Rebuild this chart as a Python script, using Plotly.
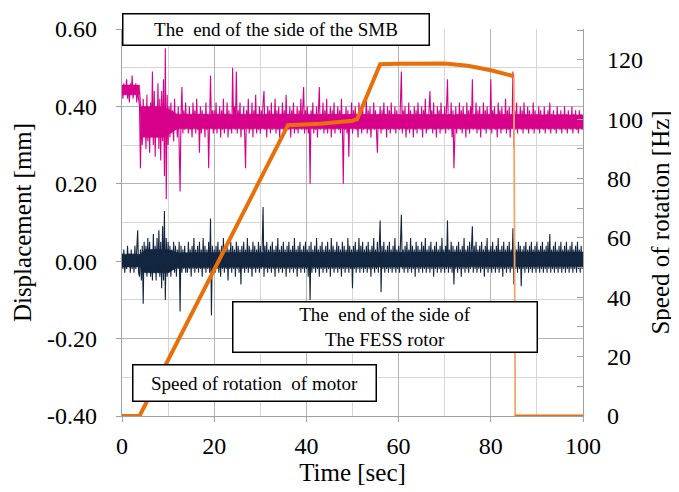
import plotly.graph_objects as go

# ---- data, one sample every 0.2 s ----
STEP = 0.2
SMB = [
 0.45,0.42,0.46,0.43,0.44,0.47,0.42,0.45,0.41,0.46,0.43,0.48,0.42,0.45,0.43,0.46,0.41,0.44,0.42,0.40,
 0.24,0.38,0.30,0.42,0.33,0.40,0.29,0.43,0.31,0.39,0.28,0.41,0.34,0.49,0.30,0.44,0.27,0.40,0.32,0.46,
 0.29,0.42,0.26,0.44,0.31,0.47,0.22,0.55,0.16,0.43,
 0.30,0.40,0.32,0.41,0.33,0.39,0.31,0.42,0.34,0.38,0.32,0.40,0.30,0.18,0.38,0.45,0.33,0.39,0.34,0.41,
 0.35,0.38,0.33,0.40,0.34,0.37,0.32,0.41,0.35,0.39,0.33,0.42,0.34,0.38,0.28,0.40,0.33,0.39,0.35,0.38,
 0.32,0.41,0.34,0.38,0.24,0.40,0.48,0.35,0.39,0.33,
 0.39,0.34,0.41,0.33,0.38,0.35,0.40,0.32,0.39,0.34,0.42,0.33,0.38,0.35,0.41,0.32,0.39,0.34,0.37,0.33,
 0.50,0.35,0.40,0.34,0.49,0.33,0.39,0.35,0.41,0.32,0.38,0.34,0.40,0.33,0.24,0.39,0.35,0.42,0.33,0.38,
 0.34,0.41,0.32,0.39,0.35,0.43,0.33,0.38,0.34,0.40,
 0.33,0.39,0.35,0.41,0.44,0.34,0.38,0.32,0.40,0.35,0.39,0.33,0.41,0.34,0.38,0.35,0.42,0.33,0.39,0.34,
 0.40,0.32,0.38,0.35,0.41,0.34,0.39,0.33,0.43,0.35,0.38,0.34,0.40,0.32,0.39,0.35,0.41,0.33,0.38,0.34,
 0.40,0.33,0.39,0.35,0.42,0.34,0.38,0.45,0.33,0.39,
 0.34,0.40,0.33,0.38,0.20,0.39,0.35,0.41,0.33,0.38,0.34,0.40,0.32,0.39,0.45,0.34,0.38,0.35,0.41,0.33,
 0.39,0.34,0.42,0.33,0.38,0.35,0.40,0.32,0.39,0.34,0.41,0.33,0.38,0.35,0.40,0.34,0.39,0.33,0.42,0.35,
 0.20,0.38,0.34,0.40,0.33,0.39,0.27,0.38,0.35,0.41,
 0.33,0.39,0.35,0.40,0.34,0.38,0.32,0.41,0.35,0.39,0.33,0.40,0.34,0.38,0.35,0.42,0.33,0.39,0.34,0.40,
 0.32,0.38,0.35,0.41,0.34,0.39,0.33,0.28,0.38,0.35,0.40,0.33,0.39,0.34,0.41,0.35,0.38,0.32,0.40,0.34,
 0.39,0.33,0.41,0.35,0.38,0.34,0.40,0.33,0.39,0.35,
 0.38,0.34,0.41,0.49,0.33,0.39,0.35,0.40,0.32,0.38,0.34,0.41,0.33,0.39,0.35,0.38,0.32,0.40,0.34,0.39,
 0.33,0.41,0.35,0.38,0.34,0.40,0.32,0.39,0.35,0.42,0.33,0.38,0.34,0.40,0.44,0.35,0.39,0.33,0.41,0.34,
 0.38,0.32,0.40,0.35,0.39,0.33,0.41,0.34,0.38,0.35,
 0.40,0.33,0.39,0.47,0.34,0.38,0.35,0.41,0.32,0.39,0.24,0.34,0.40,0.33,0.38,0.35,0.41,0.34,0.39,0.33,
 0.40,0.35,0.38,0.32,0.41,0.34,0.39,0.33,0.40,0.35,0.47,0.34,0.38,0.35,0.41,0.33,0.39,0.34,0.40,0.32,
 0.38,0.35,0.41,0.34,0.39,0.33,0.40,0.35,0.38,0.34,
 0.47,0.33,0.39,0.35,0.40,0.34,0.38,0.32,0.41,0.35,0.39,0.33,0.40,0.34,0.38,0.35,0.42,0.33,0.39,0.34,
 0.40,0.32,0.38,0.35,0.49,0.29,0.39,0.34,0.41,0.33,0.38,0.35,0.40,0.34,0.39,0.33,0.41,0.35,0.38,0.34,
 0.40,0.33,0.39,0.35,0.38,0.34,0.41,0.33,0.39,0.35,
 0.38,0.34,0.40,0.33,0.39,0.35,0.37,0.34,0.40,0.33,0.38,0.35,0.39,0.34,0.41,0.33,0.38,0.35,0.39,0.34,
 0.37,0.33,0.40,0.35,0.38,0.34,0.39,0.33,0.38,0.35,0.40,0.34,0.38,0.33,0.39,0.35,0.37,0.34,0.40,0.33,
 0.38,0.35,0.39,0.34,0.37,0.33,0.39,0.35,0.38,0.34,
 0.36]
FESS = [
 0.02,-0.02,0.03,-0.03,0.01,-0.02,0.04,-0.01,0.02,-0.03,0.03,-0.02,0.02,-0.03,0.04,-0.02,0.03,0.08,-0.03,-0.04,
 0.03,-0.05,0.04,-0.11,0.05,-0.03,0.04,-0.04,0.06,-0.02,0.05,-0.04,0.03,-0.05,0.07,-0.03,0.04,-0.05,0.06,-0.03,
 0.08,-0.04,0.05,-0.07,0.09,-0.05,0.13,-0.10,0.06,-0.04,
 0.05,-0.03,0.04,-0.04,0.03,-0.02,0.05,-0.03,0.04,-0.04,0.03,-0.02,0.05,-0.13,0.04,-0.03,0.03,-0.02,0.04,-0.03,
 0.02,-0.03,0.05,-0.02,0.03,-0.04,0.04,-0.02,0.06,-0.03,0.03,-0.02,0.04,-0.03,0.05,-0.02,0.03,-0.04,0.06,-0.02,
 0.04,-0.03,0.03,-0.02,0.05,-0.03,0.11,-0.14,0.04,-0.02,
 0.03,-0.03,0.04,-0.02,0.05,-0.03,0.03,-0.04,0.04,-0.02,0.06,-0.03,0.03,-0.02,0.04,-0.05,0.03,-0.02,0.05,-0.03,
 0.04,-0.02,0.03,-0.04,0.05,-0.02,0.04,-0.03,0.03,-0.06,0.04,-0.02,0.05,-0.03,0.03,-0.02,0.06,-0.03,0.04,-0.02,
 0.03,-0.04,0.05,-0.02,0.04,-0.03,0.03,-0.02,0.05,-0.03,
 0.04,-0.02,0.03,0.14,-0.04,0.04,-0.02,0.05,-0.03,0.03,-0.02,0.04,-0.03,0.05,-0.02,0.03,-0.04,0.04,-0.02,0.06,
 -0.03,0.03,-0.02,0.04,-0.03,0.05,-0.02,0.03,-0.04,0.04,-0.02,0.05,-0.03,0.03,-0.02,0.04,-0.03,0.06,-0.02,0.03,
 -0.04,0.04,-0.02,0.05,-0.03,0.03,-0.02,0.04,-0.03,0.05,
 -0.02,0.03,-0.04,0.04,-0.10,0.05,-0.03,0.03,-0.02,0.04,-0.03,0.06,-0.02,0.03,-0.04,0.04,-0.02,0.05,-0.03,0.03,
 -0.02,0.04,-0.03,0.05,-0.02,0.03,-0.04,0.06,-0.02,0.04,-0.03,0.03,-0.02,0.05,-0.03,0.04,-0.02,0.03,-0.04,0.05,
 -0.02,0.04,-0.03,0.03,-0.02,0.06,-0.03,0.04,-0.02,0.03,
 -0.07,0.04,-0.02,0.05,-0.03,0.03,-0.02,0.06,-0.03,0.04,-0.02,0.05,-0.03,0.03,-0.02,0.04,-0.03,0.05,-0.02,0.03,
 -0.04,0.04,-0.02,0.06,-0.03,0.03,-0.02,0.05,-0.03,0.04,0.105,-0.08,0.04,-0.02,0.05,-0.03,0.03,-0.02,0.04,-0.03,
 0.05,-0.02,0.03,-0.03,0.04,-0.02,0.06,-0.03,0.03,-0.02,
 0.04,-0.03,0.05,0.12,-0.02,0.03,-0.03,0.04,-0.02,0.05,-0.03,0.03,-0.02,0.06,-0.03,0.04,-0.02,0.03,-0.04,0.05,
 -0.02,0.04,-0.03,0.03,-0.02,0.05,-0.03,0.04,-0.02,0.06,-0.03,0.03,-0.02,0.04,-0.03,0.05,-0.02,0.03,-0.04,0.04,
 -0.02,0.05,-0.03,0.03,-0.02,0.04,-0.03,0.06,-0.02,0.03,
 -0.03,0.04,-0.02,0.105,-0.03,0.03,-0.02,0.05,-0.03,0.04,-0.06,0.03,-0.02,0.04,-0.03,0.05,-0.02,0.03,-0.04,0.04,
 -0.02,0.06,-0.03,0.03,-0.02,0.04,-0.03,0.05,-0.02,0.03,0.09,-0.03,0.04,-0.02,0.05,-0.03,0.03,-0.02,0.04,-0.03,
 0.05,-0.02,0.03,-0.04,0.04,-0.02,0.06,-0.03,0.03,-0.02,
 0.04,-0.03,0.05,-0.02,0.03,-0.03,0.04,-0.02,0.06,-0.03,0.03,-0.02,0.04,-0.04,0.05,-0.02,0.03,-0.03,0.04,-0.02,
 0.05,-0.03,0.03,-0.02,0.085,-0.06,0.04,-0.02,0.03,-0.03,0.05,-0.02,0.04,-0.065,0.03,-0.02,0.04,-0.03,0.05,-0.02,
 0.03,-0.03,0.04,-0.02,0.05,-0.03,0.03,-0.02,0.04,-0.03,
 0.05,-0.02,0.03,-0.03,0.04,-0.02,0.05,-0.03,0.03,-0.02,0.04,-0.03,0.05,-0.02,0.07,-0.03,0.03,-0.02,0.04,-0.03,
 0.05,-0.02,0.03,-0.03,0.04,-0.02,0.05,-0.03,0.03,-0.02,0.04,-0.03,0.05,-0.02,0.03,-0.03,0.04,-0.02,0.05,-0.03,
 0.03,-0.02,0.04,-0.03,0.05,-0.02,0.03,-0.03,0.04,-0.02,
 0.01]
TIME = [round(i * STEP, 1) for i in range(max(len(SMB), len(FESS)))]

# narrow core of the dense noise band of each displacement signal
SMB_BAND_T = [0, 3.8, 4.1, 9, 12, 100]
SMB_BAND_HI = [0.455, 0.455, 0.40, 0.40, 0.38, 0.378]
SMB_BAND_LO = [0.43, 0.43, 0.32, 0.32, 0.342, 0.342]
FESS_BAND_T = [0, 4, 5, 10, 12, 100]
FESS_BAND_HI = [0.018, 0.018, 0.03, 0.03, 0.022, 0.024]
FESS_BAND_LO = [-0.015, -0.015, -0.03, -0.03, -0.016, -0.014]

SPEED_T = [0, 3.8, 36, 43, 50, 51, 56, 60, 70, 75, 80, 85, 85.3, 100]
SPEED_HZ = [0, 0, 98, 98.5, 99.5, 100, 118.5, 118.7, 118.8, 118, 116.5, 114.5, 0, 0]
DROP_IDX = 11  # index where the motor stops

LEFT_TICKS = [-0.4, -0.2, 0.0, 0.2, 0.4, 0.6]
LEFT_LABELS = ["-0.40", "-0.20", "0.00", "0.20", "0.40", "0.60"]
RIGHT_TICKS = [0, 20, 40, 60, 80, 100, 120]
X_TICKS = [0, 20, 40, 60, 80, 100]

FONT = "Liberation Serif"
MAG = "#D6008B"
NAVY = "#13263F"
ORANGE = "#E8700A"


def band(t, hi, lo, color):
    return go.Scatter(x=t + t[::-1], y=hi + lo[::-1], fill="toself", fillcolor=color,
                      line=dict(width=0.5, color=color), mode="lines", yaxis="y", hoverinfo="skip")


fig = go.Figure()
fig.add_trace(band(SMB_BAND_T, SMB_BAND_HI, SMB_BAND_LO, MAG))
fig.add_trace(go.Scatter(x=TIME[:len(SMB)], y=SMB, mode="lines", line=dict(color=MAG, width=1.1), yaxis="y"))
fig.add_trace(band(FESS_BAND_T, FESS_BAND_HI, FESS_BAND_LO, NAVY))
fig.add_trace(go.Scatter(x=TIME[:len(FESS)], y=FESS, mode="lines", line=dict(color=NAVY, width=1.1), yaxis="y"))
fig.add_trace(go.Scatter(x=SPEED_T[DROP_IDX:DROP_IDX + 2], y=SPEED_HZ[DROP_IDX:DROP_IDX + 2], mode="lines",
                         line=dict(color="#F4A66A", width=1.8), yaxis="y2"))
fig.add_trace(go.Scatter(x=SPEED_T[:DROP_IDX + 1], y=SPEED_HZ[:DROP_IDX + 1], mode="lines",
                         line=dict(color=ORANGE, width=4), yaxis="y2"))
fig.add_trace(go.Scatter(x=SPEED_T[DROP_IDX + 1:], y=SPEED_HZ[DROP_IDX + 1:], mode="lines",
                         line=dict(color=ORANGE, width=3), yaxis="y2"))

tickfont = dict(family=FONT, size=24, color="black")
titlefont = dict(family=FONT, size=25, color="black")
fig.update_layout(
    width=679, height=492,
    margin=dict(l=114, r=104, t=21, b=84),
    paper_bgcolor="white", plot_bgcolor="white",
    showlegend=False,
    font=dict(family=FONT, color="black"),
    xaxis=dict(range=[0, 100], tickvals=X_TICKS, ticks="outside", ticklen=5, tickcolor="#A0A0A0",
               ticklabelstandoff=3, automargin=False,
               showgrid=True, gridcolor="#B4B4B4", gridwidth=1,
               minor=dict(dtick=10, showgrid=True, gridcolor="#D6D6D6", gridwidth=1),
               showline=True, linecolor="#A0A0A0", linewidth=1.2, zeroline=False,
               tickfont=tickfont, title=dict(text="Time [sec]", font=titlefont, standoff=2)),
    yaxis=dict(range=[-0.4, 0.6], tickvals=LEFT_TICKS, ticktext=LEFT_LABELS, ticks="outside", ticklen=5,
               tickcolor="#A0A0A0", ticklabelstandoff=14, automargin=False,
               showgrid=True, gridcolor="#B4B4B4", gridwidth=1,
               minor=dict(dtick=0.1, tick0=0, showgrid=True, gridcolor="#D6D6D6", gridwidth=1),
               showline=True, linecolor="#A0A0A0", linewidth=1.2, zeroline=False,
               tickfont=tickfont, title=dict(text="Displacement [mm]", font=titlefont, standoff=8)),
    yaxis2=dict(range=[0, 130.4], overlaying="y", side="right", tickvals=RIGHT_TICKS, ticks="inside", ticklen=6,
                tickcolor="#A0A0A0", ticklabelstandoff=18, automargin=False,
                minor=dict(dtick=10, ticks="inside", ticklen=6, tickcolor="#A0A0A0"),
                showgrid=False, showline=True, linecolor="#A0A0A0", linewidth=1.2, zeroline=False,
                tickfont=tickfont, title=dict(text="Speed of rotation [Hz]", font=titlefont, standoff=9)),
)

box = dict(xref="paper", yref="paper", showarrow=False, bgcolor="white", bordercolor="black",
           borderwidth=1.5, font=dict(family=FONT, size=19, color="black"), align="center",
           xanchor="center", yanchor="middle")
fig.add_annotation(text="The&nbsp; end of the side of the SMB", x=0.334, y=0.999, width=299, height=24, borderpad=3, **box)
fig.add_annotation(text="The&nbsp; end of the side of<br>The FESS rotor", x=0.5705, y=0.2287, width=299, height=45, borderpad=2, **box)
fig.add_annotation(text="Speed of rotation&nbsp; of motor", x=0.2874, y=0.0853, width=236, height=29, borderpad=3, **box)

fig.write_html("out.html")
